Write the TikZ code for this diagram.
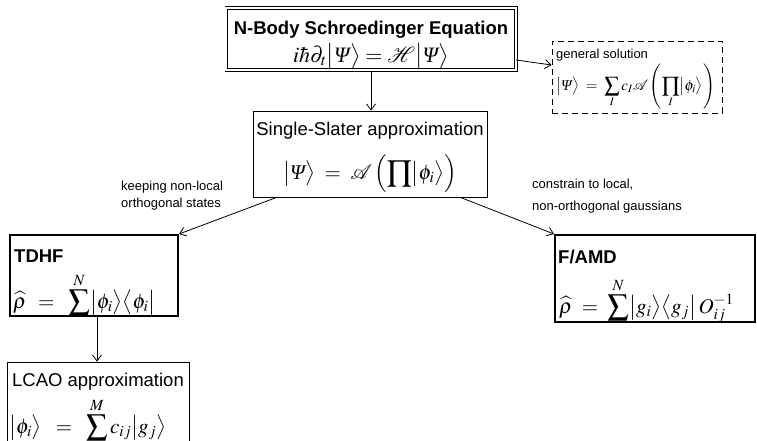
\documentclass[tikz,border=0pt]{standalone}
\usepackage{mathptmx}
\usepackage[no-math]{fontspec}
\setmainfont{Liberation Sans}
\newfontfamily\tmsfont{Liberation Serif}
\newcommand{\ipsi}{\mbox{\tmsfont\itshape Ψ\kern0.5pt}}
\usetikzlibrary{arrows.meta}
\begin{document}
\begin{tikzpicture}[x=1pt,y=-1pt,
  box/.style={draw, line width=0.8pt, inner sep=0pt},
  thickbox/.style={draw, line width=2pt, inner sep=0pt},
  txt/.style={inner sep=0pt, font=\fontsize{18.5}{22}\selectfont},
  ttl/.style={inner sep=0pt, font=\fontsize{18.5}{22}\selectfont\bfseries},
  mth/.style={inner sep=0pt, font=\fontsize{21}{25}\selectfont},
  lbl/.style={inner sep=0pt, font=\fontsize{13}{17}\selectfont, align=left},
  conn/.style={line width=0.8pt, -{Straight Barb[length=6pt,width=9pt]}}
]
\useasboundingbox (0,0) rectangle (757,440);

% top box
\node[box, double, double distance=2pt, minimum width=289.4pt, minimum height=62.4pt] (top) at (371,39) {};
\node[ttl, anchor=base] (toptitle) at (371,34) {N-Body Schroedinger Equation};
\node[mth, font=\fontsize{22}{26}\selectfont, anchor=base] (topeq) at (371,62) {$i\hbar\partial_t\bigl|\ipsi\bigr\rangle = \mathcal{H}\bigl|\ipsi\bigr\rangle$};

% general solution
\node[box, dash pattern=on 6pt off 4pt, minimum width=170pt, minimum height=72pt] (gs) at (637,77) {};
\node[lbl, anchor=base west] (gstitle) at (556,58) {general solution};
\node[inner sep=0pt, font=\fontsize{15}{17}\selectfont, anchor=base west] (gseq) at (556,90)
  {$\bigl|\ipsi\bigr\rangle \;=\; \displaystyle\sum_I c_I\mathcal{A}\left(\vrule height 20pt depth 17pt width 0pt\prod_I\bigl|\phi_i\bigr\rangle\right)$};

% single slater
\node[box, minimum width=234pt, minimum height=86pt] (ss) at (370,154) {};
\node[txt, anchor=base] (sstitle) at (370,135) {Single-Slater approximation};
\node[mth, anchor=base] (sseq) at (370,179) {$\bigl|\ipsi\bigr\rangle \;=\; \mathcal{A}\left(\vrule height 25pt depth 12pt width 0pt\displaystyle\prod\bigl|\phi_i\bigr\rangle\right)$};

% TDHF
\node[thickbox, minimum width=168pt, minimum height=81pt] (tdhf) at (94,275.5) {};
\node[ttl, anchor=base west] (tdhftitle) at (14,262) {TDHF};
\node[mth, anchor=base west] (tdhfeq) at (13,308) {$\widehat{\rho} \;\,=\;\; \displaystyle\sum^N\bigl|\phi_i\bigr\rangle\bigl\langle\phi_i\bigr|$};

% F/AMD
\node[thickbox, minimum width=200pt, minimum height=87pt] (famd) at (655,278.5) {};
\node[ttl, anchor=base west] (famdtitle) at (558,263) {F/AMD};
\node[mth, anchor=base west] (famdeq) at (559,313) {$\widehat{\rho} \;=\; \displaystyle\sum^N\bigl|g_i\bigr\rangle\bigl\langle g_j\bigr|\,O^{-1}_{ij}$};

% LCAO
\node[box, minimum width=182pt, minimum height=92pt] (lcao) at (98,408) {};
\node[txt, anchor=base] (lcaotitle) at (98,386) {LCAO approximation};
\node[mth, anchor=base west] (lcaoeq) at (9,433) {$\bigl|\phi_i\bigr\rangle \;\;=\;\; \displaystyle\sum^M c_{ij}\bigl|g_j\bigr\rangle$};

% labels
\node[lbl, anchor=north west] (lblleft) at (121,181) {keeping non-local\\orthogonal states};
\node[lbl, anchor=north west, font=\fontsize{13}{22}\selectfont] (lblright) at (532,179) {constrain to local,\\non-orthogonal gaussians};

% connectors
\draw[conn] (top.south) -- (ss.north -| top.south);
\draw[conn] ([yshift=-21pt]top.east) -- ([yshift=12pt]gs.west);
\draw[conn] ([xshift=24pt]ss.south west) -- (tdhf.north east);
\draw[conn] ([xshift=-27pt]ss.south east) -- (famd.north west);
\draw[conn] ([xshift=3pt]tdhf.south) -- ([xshift=3pt]tdhf.south |- lcao.north);
\end{tikzpicture}
\end{document}
